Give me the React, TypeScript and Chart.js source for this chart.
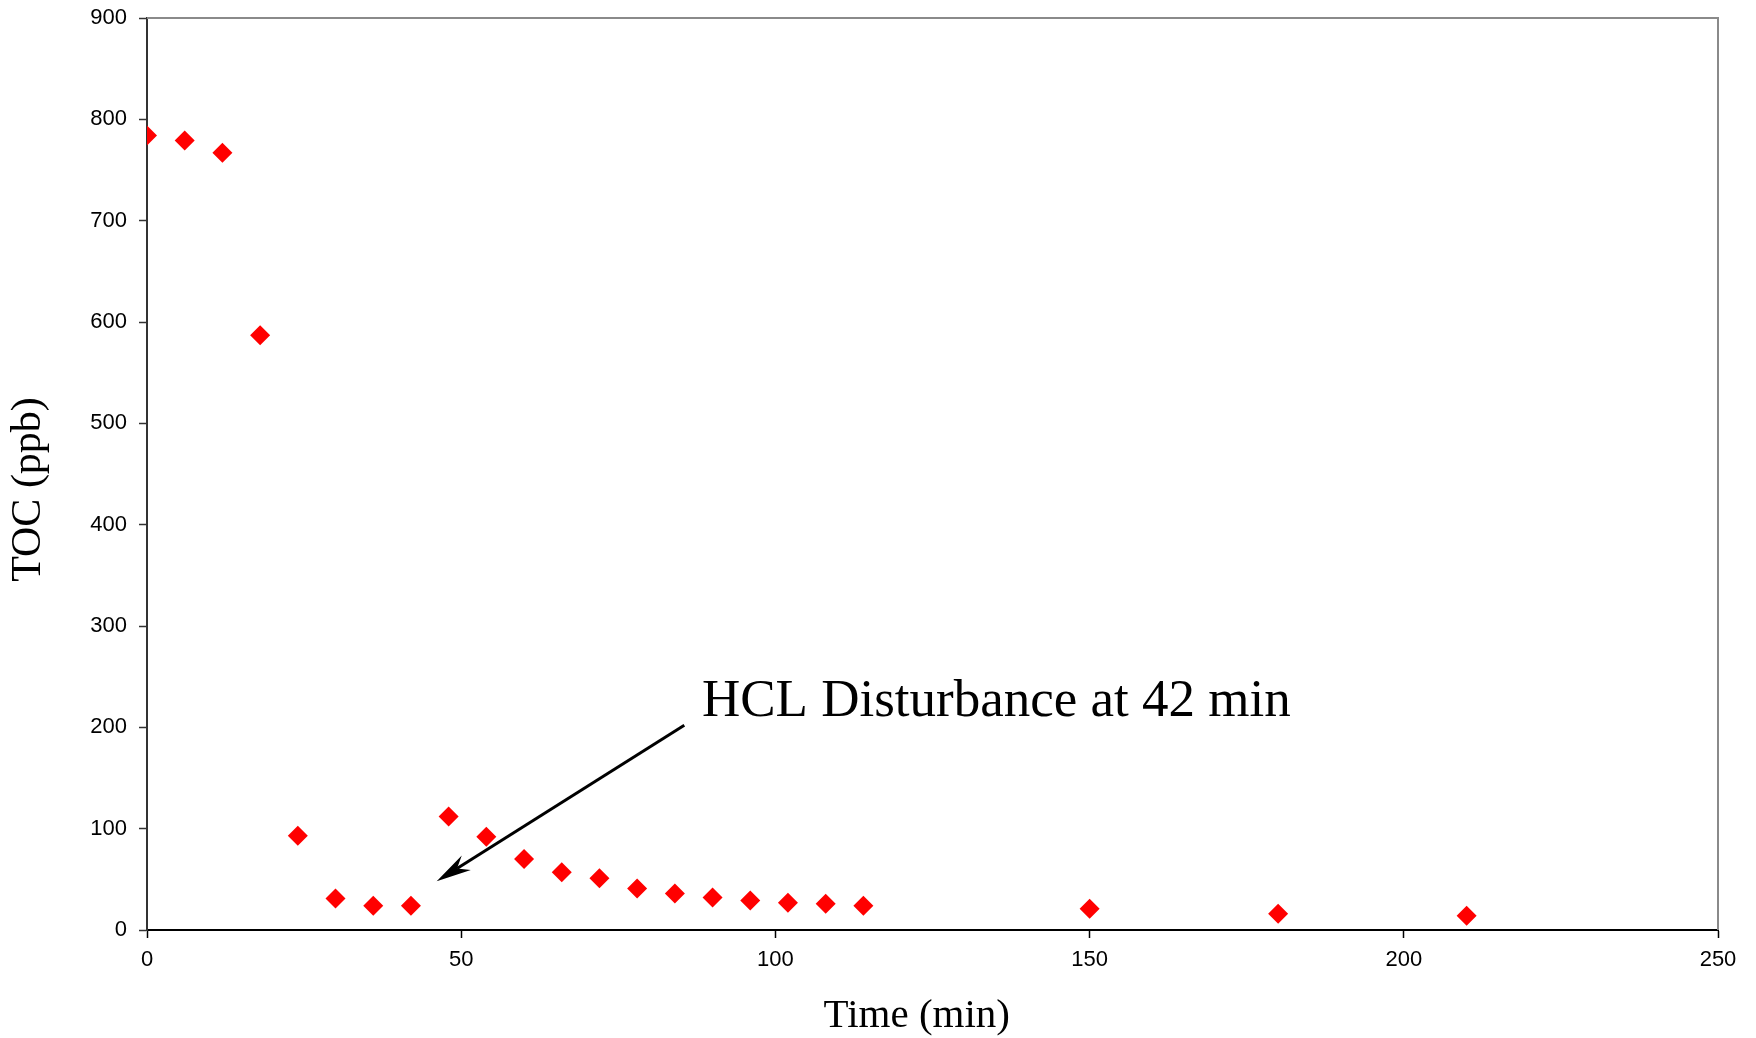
import React, { useEffect, useRef } from "react";
import { Chart, registerables } from "chart.js";

Chart.register(...registerables);

const timeMin = [0, 6, 12, 18, 24, 30, 36, 42, 48, 54, 60, 66, 72, 78, 84, 90, 96, 102, 108, 114, 150, 180, 210];
const tocPpb = [784, 779, 767, 587, 93, 31, 24, 24, 112, 92, 70, 57, 51, 41, 36, 32, 29, 27, 26, 24, 21, 16, 14];

const xTitle = "Time (min)";
const yTitle = "TOC (ppb)";
const annotationText = "HCL Disturbance at 42 min";
// annotation anchor points in data units
const annotationTextAt = [88.3, 211];
const arrowFrom = [85.5, 202];
const arrowTo = [46.1, 48];

const titleFamily = "'Liberation Serif', 'Times New Roman', serif";

const annotationPlugin = {
  id: "annot",
  afterDraw(chart: any) {
    const { ctx, chartArea, scales } = chart;
    const xs = scales.x;
    const ys = scales.y;
    ctx.save();
    // top and right frame
    ctx.strokeStyle = "#8a8a8a";
    ctx.lineWidth = 2;
    ctx.beginPath();
    ctx.moveTo(chartArea.left, chartArea.top);
    ctx.lineTo(chartArea.right, chartArea.top);
    ctx.lineTo(chartArea.right, chartArea.bottom);
    ctx.stroke();

    // axis titles
    ctx.fillStyle = "#000";
    ctx.textAlign = "center";
    ctx.textBaseline = "middle";
    ctx.font = `41px ${titleFamily}`;
    ctx.fillText(xTitle, chartArea.left + (chartArea.right - chartArea.left) * 0.49, 1016);
    ctx.save();
    ctx.translate(29, chartArea.top + (chartArea.bottom - chartArea.top) * 0.517);
    ctx.rotate(-Math.PI / 2);
    ctx.font = `42px ${titleFamily}`;
    ctx.fillText(yTitle, 0, 0);
    ctx.restore();

    // arrow
    const x1 = xs.getPixelForValue(arrowFrom[0]);
    const y1 = ys.getPixelForValue(arrowFrom[1]);
    const x2 = xs.getPixelForValue(arrowTo[0]);
    const y2 = ys.getPixelForValue(arrowTo[1]);
    const dx = x1 - x2;
    const dy = y1 - y2;
    const len = Math.hypot(dx, dy);
    const ux = dx / len;
    const uy = dy / len;
    const nx = -uy;
    const ny = ux;
    const headLen = 35;
    const headHalf = 8.5;
    const notch = 24;
    ctx.strokeStyle = "#000";
    ctx.lineWidth = 3;
    ctx.beginPath();
    ctx.moveTo(x1, y1);
    ctx.lineTo(x2 + ux * notch, y2 + uy * notch);
    ctx.stroke();
    ctx.fillStyle = "#000";
    ctx.beginPath();
    ctx.moveTo(x2, y2);
    ctx.lineTo(x2 + ux * headLen + nx * headHalf, y2 + uy * headLen + ny * headHalf);
    ctx.lineTo(x2 + ux * notch, y2 + uy * notch);
    ctx.lineTo(x2 + ux * headLen - nx * headHalf, y2 + uy * headLen - ny * headHalf);
    ctx.closePath();
    ctx.fill();

    // text
    ctx.font = `53px ${titleFamily}`;
    ctx.textAlign = "left";
    ctx.textBaseline = "alphabetic";
    ctx.fillText(
      annotationText,
      xs.getPixelForValue(annotationTextAt[0]),
      ys.getPixelForValue(annotationTextAt[1])
    );
    ctx.restore();
  },
};

export default function App() {
  const ref = useRef<HTMLCanvasElement | null>(null);
  useEffect(() => {
    document.body.style.margin = "0";
    const canvas = ref.current!;
    const tickFont = { family: "'Liberation Sans', Arial, sans-serif", size: 22 };
    const chart = new Chart(canvas, {
      type: "scatter",
      data: {
        datasets: [
          {
            label: "TOC",
            data: timeMin.map((t, i) => ({ x: t, y: tocPpb[i] })),
            backgroundColor: "#ff0000",
            borderColor: "#ff0000",
            borderWidth: 0,
            pointStyle: "rectRot",
            pointRadius: 10,
            showLine: false,
          },
        ],
      },
      options: {
        responsive: false,
        animation: false,
        layout: { padding: { top: 18, right: 38, left: 0, bottom: 0 } },
        plugins: { legend: { display: false }, tooltip: { enabled: false } },
        scales: {
          x: {
            type: "linear",
            min: 0,
            max: 250,
            afterFit: (s: any) => {
              s.height = 108;
              s.paddingLeft = 0;
              s.paddingRight = 0;
            },
            ticks: { stepSize: 50, color: "#000", font: tickFont, padding: 9, maxRotation: 0 },
            grid: {
              display: true,
              drawOnChartArea: false,
              drawTicks: true,
              tickLength: 8,
              tickColor: "#000",
              tickWidth: 1.5,
            },
            border: { display: true, color: "#000", width: 2 },
            title: { display: false, text: xTitle },
          },
          y: {
            type: "linear",
            min: 0,
            max: 900,
            afterFit: (s: any) => {
              s.width = 147;
              s.paddingTop = 0;
              s.paddingBottom = 0;
            },
            ticks: { stepSize: 100, color: "#000", font: tickFont, padding: 12 },
            grid: {
              display: true,
              drawOnChartArea: false,
              drawTicks: true,
              tickLength: 8,
              tickColor: "#333",
              tickWidth: 1.5,
            },
            border: { display: true, color: "#333", width: 2 },
            title: { display: false, text: yTitle },
          },
        },
      },
      plugins: [annotationPlugin],
    });
    return () => chart.destroy();
  }, []);
  return (
    <div style={{ width: 1756, height: 1038 }}>
      <canvas ref={ref} width={1756} height={1038} style={{ display: "block" }} />
    </div>
  );
}
